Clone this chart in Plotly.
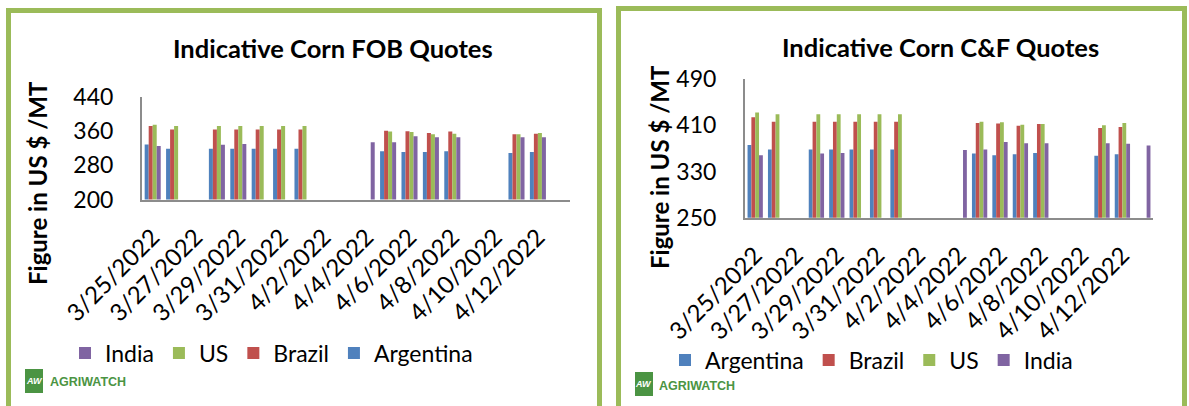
import plotly.graph_objects as go

# ---- data -------------------------------------------------------------
fob_dates = ["2022-03-25", "2022-03-26", "2022-03-28", "2022-03-29", "2022-03-30",
             "2022-03-31", "2022-04-01", "2022-04-04", "2022-04-05", "2022-04-06",
             "2022-04-07", "2022-04-08", "2022-04-11", "2022-04-12"]
fob_argentina = [329, 319, 319, 319, 319, 319, 319, None, 313, 311, 311, 313, 309, 311]
fob_brazil = [372, 364, 364, 364, 364, 364, 364, None, 361, 360, 356, 359, 353, 354]
fob_us = [375, 372, 372, 372, 372, 372, 372, None, 359, 358, 353, 354, 353, 356]
fob_india = [325, None, 328, 330, None, None, None, 334, 334, 348, 346, 346, 346, 346]

cf_dates = ["2022-03-25", "2022-03-26", "2022-03-28", "2022-03-29", "2022-03-30",
            "2022-03-31", "2022-04-01", "2022-04-04", "2022-04-05", "2022-04-06",
            "2022-04-07", "2022-04-08", "2022-04-11", "2022-04-12", "2022-04-13"]
cf_argentina = [376, 368, 368, 368, 368, 368, 368, None, 361, 358, 360, 362, 357, 360, None]
cf_brazil = [424, 416, 416, 416, 416, 416, 416, None, 414, 413, 409, 412, 405, 407, None]
cf_us = [432, 429, 429, 429, 429, 429, 429, None, 416, 415, 411, 412, 410, 414, None]
cf_india = [358, None, 361, 362, None, None, None, 367, 368, 381, 379, 379, 379, 378, 375]

tick_dates = ["2022-03-25", "2022-03-27", "2022-03-29", "2022-03-31", "2022-04-02",
              "2022-04-04", "2022-04-06", "2022-04-08", "2022-04-10", "2022-04-12"]
tick_text = ["3/25/2022", "3/27/2022", "3/29/2022", "3/31/2022", "4/2/2022",
             "4/4/2022", "4/6/2022", "4/8/2022", "4/10/2022", "4/12/2022"]

fob_ticks = [200, 280, 360, 440]
cf_ticks = [250, 330, 410, 490]

# ---- styling ----------------------------------------------------------
W, H = 1189, 406
FONT = "Lato"
COLORS = {"Argentina": "#4F81BD", "Brazil": "#C0504D", "US": "#9BBB59", "India": "#8064A2"}
FRAME = "#9BBB59"
AXIS = "#8C8C8C"


def px(x):
    return x / W


def py(y):
    return 1 - y / H


fig = go.Figure()

fob_series = [("Argentina", fob_argentina), ("Brazil", fob_brazil),
              ("US", fob_us), ("India", fob_india)]
cf_series = [("Argentina", cf_argentina), ("Brazil", cf_brazil),
             ("US", cf_us), ("India", cf_india)]

for name, vals in fob_series:
    fig.add_trace(go.Bar(x=fob_dates, y=vals, name=name, marker_color=COLORS[name],
                         marker_line_width=0, xaxis="x", yaxis="y",
                         legend="legend", offsetgroup="fob-" + name))
for name, vals in cf_series:
    fig.add_trace(go.Bar(x=cf_dates, y=vals, name=name, marker_color=COLORS[name],
                         marker_line_width=0, xaxis="x2", yaxis="y2",
                         legend="legend2", offsetgroup="cf-" + name))

xcommon = dict(type="date", tickmode="array", tickvals=tick_dates, ticktext=tick_text,
               tickangle=-45, tickfont=dict(family=FONT, size=24, color="#000"),
               showline=True, linecolor=AXIS, linewidth=2, showgrid=False,
               ticks="", zeroline=False, fixedrange=True, automargin=False,
               ticklabelstandoff=12)
ycommon = dict(showline=True, linecolor=AXIS, linewidth=2, showgrid=False,
               ticks="", tickfont=dict(family=FONT, size=23, color="#000"),
               zeroline=False, automargin=False, ticklabelstandoff=22)

fig.update_layout(
    width=W, height=H,
    margin=dict(l=0, r=0, t=0, b=0, autoexpand=False),
    paper_bgcolor="white", plot_bgcolor="white",
    barmode="group", bargap=0.25, bargroupgap=0,
    showlegend=True,
    xaxis=dict(xcommon, domain=[px(142), px(570)], anchor="y",
               range=["2022-03-24 12:00", "2022-04-13 12:00"]),
    yaxis=dict(ycommon, domain=[py(199.5), py(97)], anchor="x",
               range=[200, 440], tickvals=fob_ticks),
    xaxis2=dict(xcommon, domain=[px(745), px(1153)], anchor="y2",
                range=["2022-03-24 12:00", "2022-04-13 12:00"]),
    yaxis2=dict(ycommon, domain=[py(217.7), py(79)], anchor="x2",
                range=[250, 490], tickvals=cf_ticks),
    legend=dict(orientation="h", traceorder="reversed",
                x=px(65), y=py(353), xanchor="left", yanchor="middle",
                font=dict(family=FONT, size=23, color="#000"),
                bgcolor="rgba(0,0,0,0)", itemwidth=30),
    legend2=dict(orientation="h", traceorder="normal",
                 x=px(665), y=py(360), xanchor="left", yanchor="middle",
                 font=dict(family=FONT, size=23, color="#000"),
                 bgcolor="rgba(0,0,0,0)", itemwidth=30),
)

# panel frames
fig.add_shape(type="rect", xref="paper", yref="paper",
              x0=px(8.5), x1=px(599.5), y0=py(440), y1=py(10.5),
              line=dict(color=FRAME, width=5), layer="above")
fig.add_shape(type="rect", xref="paper", yref="paper",
              x0=px(618.5), x1=px(1184.5), y0=py(440), y1=py(8.5),
              line=dict(color=FRAME, width=5), layer="above")

annotations = [
    dict(text="<b>Indicative Corn FOB Quotes</b>", x=px(333), y=py(48)),
    dict(text="<b>Indicative Corn C&F Quotes</b>", x=px(941), y=py(47)),
]
for a in annotations:
    fig.add_annotation(xref="paper", yref="paper", xanchor="center", yanchor="middle",
                       showarrow=False, font=dict(family=FONT, size=25.5, color="#000"), **a)

for x, y in [(37, 183), (659, 167)]:
    fig.add_annotation(text="<b>Figure in US $ /MT</b>", xref="paper", yref="paper",
                       x=px(x), y=py(y), xanchor="center", yanchor="middle",
                       textangle=-90, showarrow=False,
                       font=dict(family=FONT, size=24, color="#000"))

# AGRIWATCH marks
LOGO = "#4B9443"
for (sx0, sy0, sx1, sy1, tx, ty) in [(25, 369, 43, 393, 48, 382), (635, 372, 653, 396, 657, 386)]:
    fig.add_shape(type="rect", xref="paper", yref="paper",
                  x0=px(sx0), x1=px(sx1), y0=py(sy1), y1=py(sy0),
                  fillcolor=LOGO, line=dict(width=0))
    fig.add_annotation(text="<b><i>AW</i></b>", xref="paper", yref="paper",
                       x=px((sx0 + sx1) / 2), y=py((sy0 + sy1) / 2),
                       xanchor="center", yanchor="middle", showarrow=False,
                       font=dict(family="Liberation Sans", size=9, color="white"))
    fig.add_annotation(text="<b>AGRIWATCH</b>", xref="paper", yref="paper",
                       x=px(tx), y=py(ty), xanchor="left", yanchor="middle",
                       showarrow=False,
                       font=dict(family="Liberation Sans", size=12.5, color=LOGO))

fig.write_html("out.html")
